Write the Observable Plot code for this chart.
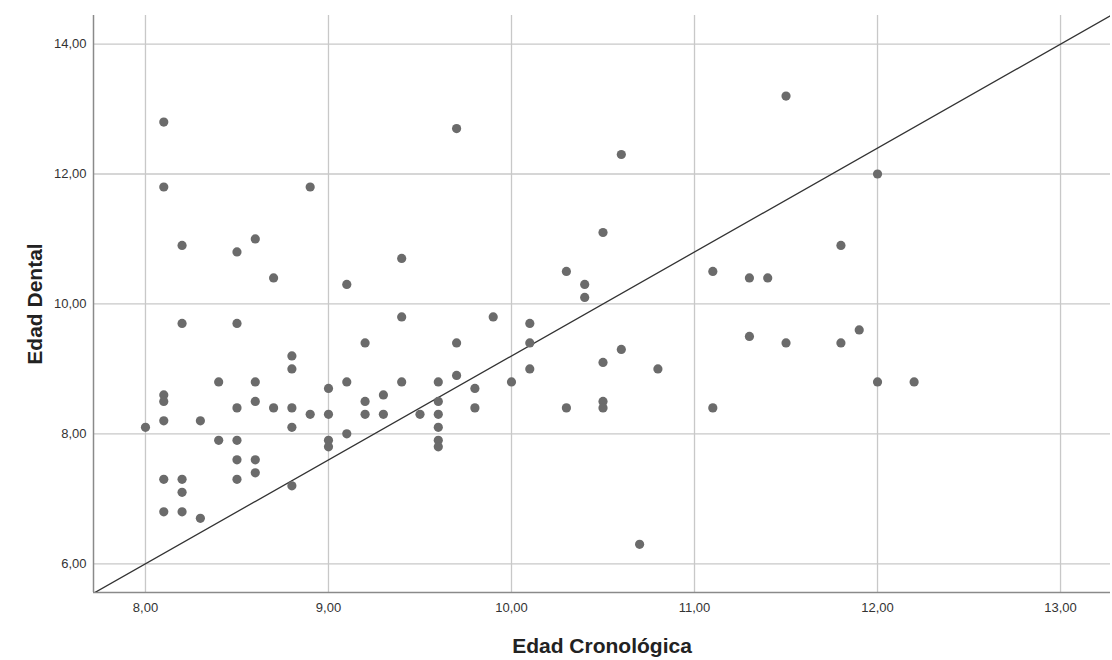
<!DOCTYPE html>
<html>
<head>
<meta charset="utf-8">
<script src="https://cdn.jsdelivr.net/npm/d3@7"></script>
<script src="https://cdn.jsdelivr.net/npm/@observablehq/plot@0.6"></script>
<style>
  html, body { margin: 0; padding: 0; background: #fff; }
  #chart { width: 1112px; height: 660px; }
</style>
</head>
<body>
<div id="chart"></div>
<script>
// Edad Cronológica (x) and Edad Dental (y) for each subject
const edadCronologica = [
  8.0,
  8.1, 8.1, 8.1, 8.1, 8.1, 8.1, 8.1,
  8.2, 8.2, 8.2, 8.2, 8.2,
  8.3, 8.3,
  8.4, 8.4,
  8.5, 8.5, 8.5, 8.5, 8.5, 8.5,
  8.6, 8.6, 8.6, 8.6, 8.6,
  8.7, 8.7,
  8.8, 8.8, 8.8, 8.8, 8.8,
  8.9, 8.9,
  9.0, 9.0, 9.0, 9.0,
  9.1, 9.1, 9.1,
  9.2, 9.2, 9.2,
  9.3, 9.3,
  9.4, 9.4, 9.4,
  9.5,
  9.6, 9.6, 9.6, 9.6, 9.6, 9.6,
  9.7, 9.7, 9.7,
  9.8, 9.8,
  9.9,
  10.0,
  10.1, 10.1, 10.1,
  10.3, 10.3,
  10.4, 10.4,
  10.5, 10.5, 10.5, 10.5,
  10.6, 10.6,
  10.7,
  10.8,
  11.1, 11.1,
  11.3, 11.3,
  11.4,
  11.5, 11.5,
  11.8, 11.8,
  11.9,
  12.0, 12.0,
  12.2
];
const edadDental = [
  8.1,
  12.8, 11.8, 8.6, 8.5, 8.2, 7.3, 6.8,
  10.9, 9.7, 7.3, 7.1, 6.8,
  8.2, 6.7,
  8.8, 7.9,
  10.8, 9.7, 8.4, 7.9, 7.6, 7.3,
  11.0, 8.8, 8.5, 7.6, 7.4,
  10.4, 8.4,
  9.2, 9.0, 8.4, 8.1, 7.2,
  11.8, 8.3,
  8.7, 8.3, 7.9, 7.8,
  10.3, 8.8, 8.0,
  9.4, 8.5, 8.3,
  8.6, 8.3,
  10.7, 9.8, 8.8,
  8.3,
  8.8, 8.5, 8.3, 8.1, 7.9, 7.8,
  12.7, 9.4, 8.9,
  8.7, 8.4,
  9.8,
  8.8,
  9.7, 9.4, 9.0,
  10.5, 8.4,
  10.3, 10.1,
  11.1, 9.1, 8.5, 8.4,
  12.3, 9.3,
  6.3,
  9.0,
  10.5, 8.4,
  10.4, 9.5,
  10.4,
  13.2, 9.4,
  10.9, 9.4,
  9.6,
  12.0, 8.8,
  8.8
];

// tick values
const xTicks = [8, 9, 10, 11, 12, 13];
const yTicks = [6, 8, 10, 12, 14];

// reference line through these two points
const refLineX = [8, 13];
const refLineY = [6, 14];

// axis ranges
const xDomain = [7.716, 13.273];
const yDomain = [5.558, 14.44];

const points = edadCronologica.map((x, i) => ({x, y: edadDental[i]}));
const slope = (refLineY[1] - refLineY[0]) / (refLineX[1] - refLineX[0]);
const refLine = xDomain.map(x => ({x, y: refLineY[0] + slope * (x - refLineX[0])}));

const fmt = d => d.toFixed(2).replace(".", ",");

const chart = Plot.plot({
  width: 1112,
  height: 660,
  marginLeft: 93,
  marginRight: 2,
  marginTop: 15,
  marginBottom: 68,
  style: {fontFamily: "'Liberation Sans', Arial, sans-serif", fontSize: "13px", background: "#fff"},
  x: {domain: xDomain, ticks: xTicks},
  y: {domain: yDomain, ticks: yTicks},
  marks: [
    Plot.gridX(xTicks, {stroke: "#c8c8c8", strokeOpacity: 1, strokeWidth: 1.3}),
    Plot.gridY(yTicks, {stroke: "#c8c8c8", strokeOpacity: 1, strokeWidth: 1.3}),
    Plot.ruleX([xDomain[0]], {stroke: "#8a8a8a", strokeWidth: 1.5}),
    Plot.ruleY([yDomain[0]], {stroke: "#8a8a8a", strokeWidth: 1.5}),
    Plot.axisX(xTicks, {tickSize: 0, tickPadding: 10, tickFormat: fmt, fontSize: 13, fill: "#333", label: null}),
    Plot.axisY(yTicks, {tickSize: 0, tickPadding: 7, tickFormat: fmt, fontSize: 13, fill: "#333", label: null}),
    Plot.line(refLine, {x: "x", y: "y", stroke: "#333", strokeWidth: 1.3, clip: true}),
    Plot.dot(points, {x: "x", y: "y", r: 4.6, fill: "#6b6b6b", stroke: "none"}),
    Plot.text(["Edad Cronológica"], {frameAnchor: "bottom", dy: 60, fontSize: 21, fontWeight: "bold", fill: "#222"}),
    Plot.text(["Edad Dental"], {frameAnchor: "left", dx: -58, rotate: -90, textAnchor: "middle", fontSize: 21, fontWeight: "bold", fill: "#222"})
  ]
});
document.getElementById("chart").appendChild(chart);
</script>
</body>
</html>
